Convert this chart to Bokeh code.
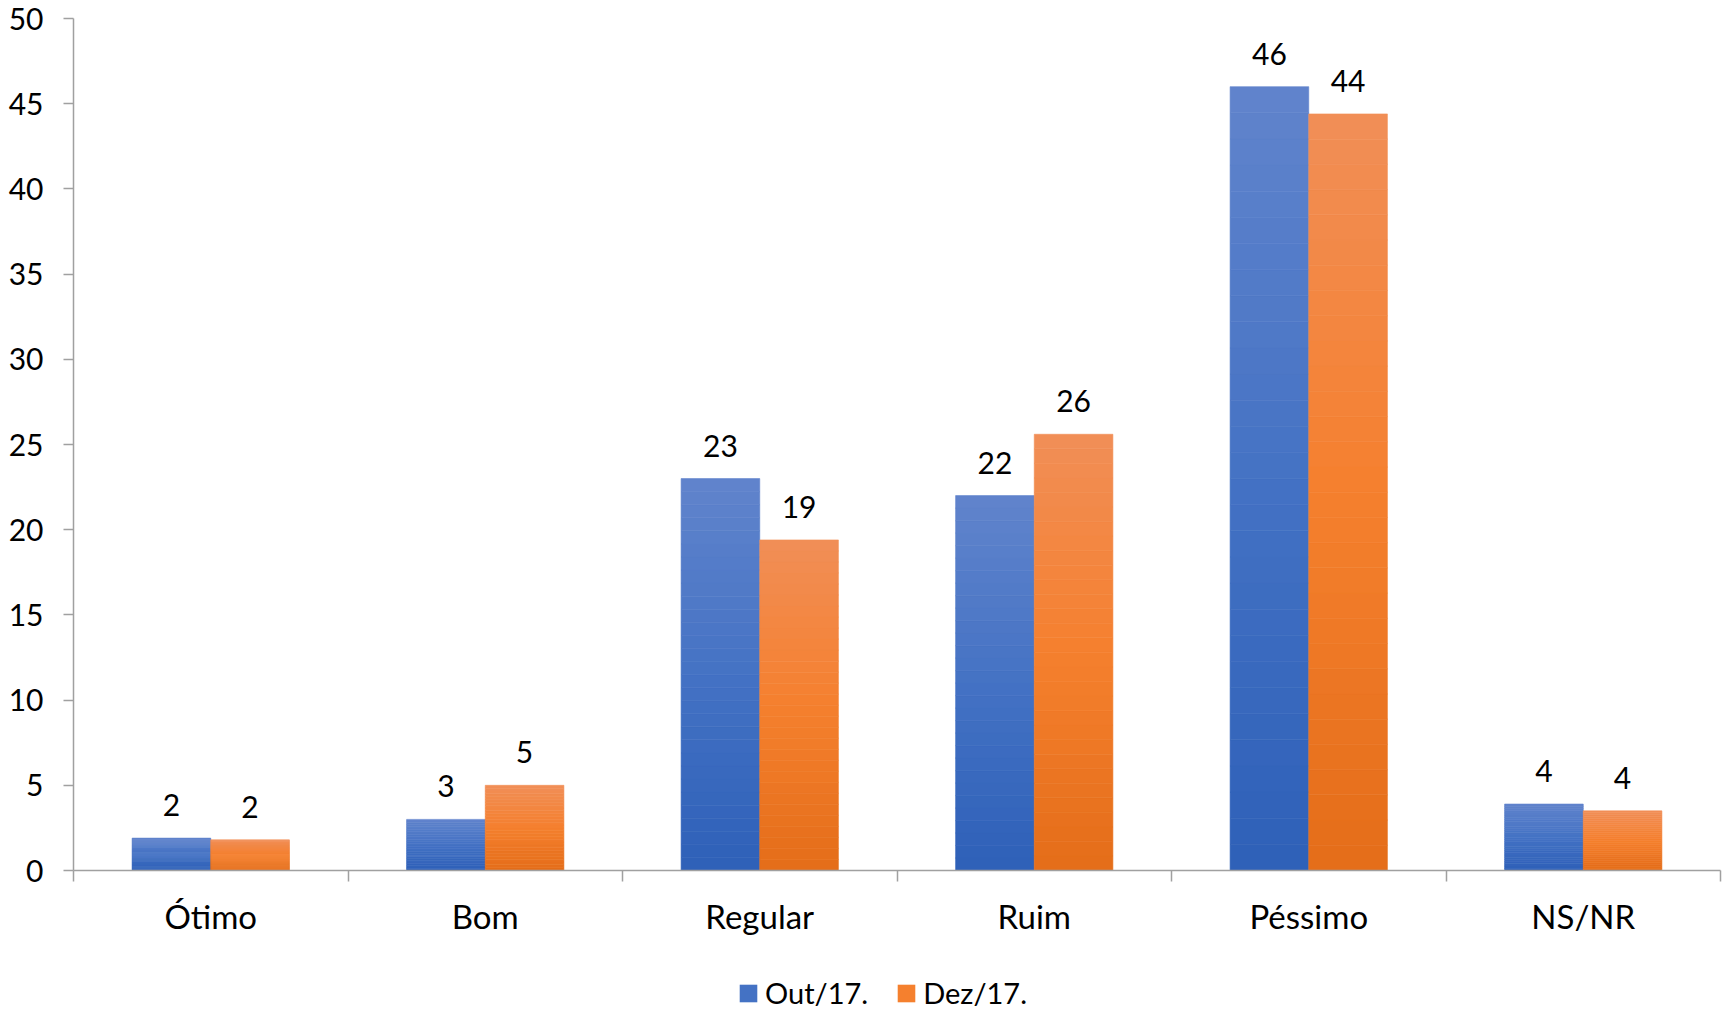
from bokeh.plotting import figure
from bokeh.models import Range1d, FixedTicker, Legend, LegendItem, ColumnDataSource
from bokeh.layouts import column
from bokeh.core.properties import value
from bokeh.embed import file_html
from bokeh.resources import INLINE

categories = ["Ótimo", "Bom", "Regular", "Ruim", "Péssimo", "NS/NR"]
series_names = ["Out/17.", "Dez/17."]
out17 = [1.9, 3.0, 23.0, 22.0, 46.0, 3.9]
dez17 = [1.8, 5.0, 19.4, 25.6, 44.4, 3.5]
y_ticks = [0, 5, 10, 15, 20, 25, 30, 35, 40, 45, 50]

FONT = "Lato"
blue_stops = ["#6184CC", "#4472C4", "#2E60B8"]   # top, middle, bottom
orange_stops = ["#F18E57", "#F5802E", "#E46D19"]
BAR_W = 0.2865
N_BANDS = 30
W = 1722


def hex2rgb(h):
    h = h.lstrip("#")
    return tuple(int(h[i:i + 2], 16) for i in (0, 2, 4))


def grad_color(stops, t):
    # t = 0 at bottom, 1 at top
    bottom, mid, top = hex2rgb(stops[2]), hex2rgb(stops[1]), hex2rgb(stops[0])
    if t < 0.5:
        a, b, f = bottom, mid, t / 0.5
    else:
        a, b, f = mid, top, (t - 0.5) / 0.5
    c = tuple(int(round(a[i] + (b[i] - a[i]) * f)) for i in range(3))
    return "#%02x%02x%02x" % c


p = figure(width=W, height=955, output_backend="svg", toolbar_location=None,
           x_range=Range1d(0, len(categories)), y_range=Range1d(0, 50),
           min_border_left=73, min_border_right=2, min_border_top=18, min_border_bottom=85)
p.outline_line_color = None
p.xgrid.visible = False
p.ygrid.visible = False
p.background_fill_color = "white"
p.border_fill_color = "white"

series = [(out17, blue_stops, -0.5), (dez17, orange_stops, 0.5)]
for vals, stops, side in series:
    L, R, B, T, C = [], [], [], [], []
    for i, v in enumerate(vals):
        cx = i + 0.5 + side * BAR_W
        for k in range(N_BANDS):
            L.append(cx - BAR_W / 2)
            R.append(cx + BAR_W / 2)
            B.append(v * k / N_BANDS)
            T.append(v * (k + 1) / N_BANDS)
            C.append(grad_color(stops, (k + 0.5) / N_BANDS))
    src = ColumnDataSource(dict(left=L, right=R, bottom=B, top=T, color=C))
    p.quad(left="left", right="right", bottom="bottom", top="top", source=src,
           fill_color="color", line_color="color", line_width=0.6)
    lab_src = ColumnDataSource(dict(
        x=[i + 0.5 + side * BAR_W for i in range(len(vals))],
        y=vals,
        t=[str(int(v + 0.5)) for v in vals]))
    p.text(x="x", y="y", text="t", source=lab_src, text_font=value(FONT),
           text_font_size="30px", text_color="#000000", text_align="center",
           text_baseline="alphabetic", y_offset=-33)

AXC = "#A0A0A0"
# y axis
ya = p.yaxis[0]
ya.ticker = FixedTicker(ticks=y_ticks)
ya.axis_line_color = AXC
ya.axis_line_width = 1.5
ya.major_tick_line_color = AXC
ya.major_tick_line_width = 1.5
ya.major_tick_out = 10
ya.major_tick_in = 0
ya.minor_tick_line_color = None
ya.major_label_standoff = 20
ya.major_label_text_font = FONT
ya.major_label_text_font_size = "30px"
ya.major_label_text_color = "#000000"

# x axis: labels at category centers, ticks at boundaries
xa = p.xaxis[0]
centers = [i + 0.5 for i in range(len(categories))]
xa.ticker = FixedTicker(ticks=centers, minor_ticks=list(range(len(categories) + 1)))
xa.major_label_overrides = {c: lab for c, lab in zip(centers, categories)}
xa.axis_line_color = AXC
xa.axis_line_width = 1.5
xa.major_tick_line_color = None
xa.major_tick_out = 0
xa.major_tick_in = 0
xa.minor_tick_line_color = AXC
xa.minor_tick_line_width = 1.5
xa.minor_tick_out = 11
xa.minor_tick_in = 0
xa.major_label_standoff = 14
xa.major_label_text_font = FONT
xa.major_label_text_font_size = "33px"
xa.major_label_text_color = "#000000"

# legend strip below the chart (swatch renderers sit outside the visible range)
lf = figure(width=W, height=57, output_backend="svg", toolbar_location=None,
            x_range=Range1d(0, 1), y_range=Range1d(0, 1),
            x_axis_location=None, y_axis_location=None,
            min_border_left=0, min_border_right=0, min_border_top=0, min_border_bottom=0)
lf.grid.visible = False
lf.outline_line_color = None
items = []
for name, stops in zip(series_names, [blue_stops, orange_stops]):
    r = lf.quad(left=[5], right=[6], bottom=[5], top=[6], fill_color=stops[1], line_color=None)
    items.append(LegendItem(label=name, renderers=[r]))
legend = Legend(items=items, orientation="horizontal", location=(664, 2),
                label_text_font=FONT, label_text_font_size="29px", label_text_color="#000000",
                glyph_width=22, glyph_height=22, label_standoff=6, spacing=27,
                padding=0, margin=0, border_line_color=None, background_fill_alpha=0)
lf.add_layout(legend)

layout = column(p, lf, spacing=0)
open("out.html", "w").write(file_html(layout, INLINE))
